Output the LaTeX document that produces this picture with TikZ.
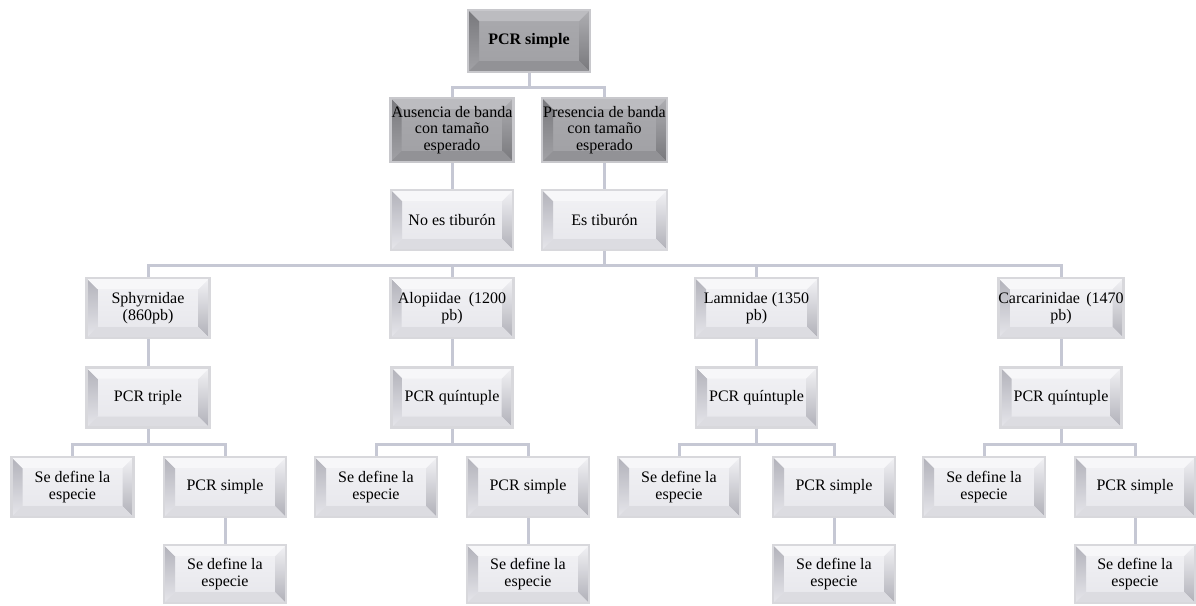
\documentclass[tikz,border=0pt]{standalone}
\usepackage{fontspec}
\setmainfont{Liberation Serif}
\usetikzlibrary{calc}
\definecolor{conncol}{HTML}{C6C8D4}
\definecolor{lborder}{HTML}{D8D8DC}
\definecolor{dborder}{HTML}{C8C8CC}
\definecolor{lfaceT}{HTML}{F2F2F5}
\definecolor{lfaceB}{HTML}{E6E6EB}
\definecolor{lleftT}{HTML}{B2B2BA}
\definecolor{lleftB}{HTML}{E6E6EB}
\definecolor{lrightT}{HTML}{F2F2F5}
\definecolor{lrightB}{HTML}{B0B0B8}
\definecolor{ltop}{HTML}{F7F7F9}
\definecolor{lbot}{HTML}{DCDCE1}
\definecolor{dfaceT}{HTML}{AAAAAE}
\definecolor{dfaceB}{HTML}{A0A0A4}
\definecolor{dleftT}{HTML}{78787C}
\definecolor{dleftB}{HTML}{A2A2A6}
\definecolor{drightT}{HTML}{AEAEB2}
\definecolor{drightB}{HTML}{78787C}
\definecolor{dtop}{HTML}{BCBCC0}
\definecolor{dbot}{HTML}{929296}
\newcommand{\bvd}{11pt}
\newcommand{\bevelwith}[8]{%
  \path (path picture bounding box.north west) coordinate (ppnw)
        (path picture bounding box.south east) coordinate (ppse);
  \shade[top color=#1,bottom color=#2] (ppnw) rectangle (ppse);
  \shade[top color=#3,bottom color=#4] (ppnw) -- ($(ppnw)+(\bvd,-\bvd)$) -- ($(ppnw |- ppse)+(\bvd,\bvd)$) -- (ppnw |- ppse) -- cycle;
  \shade[top color=#5,bottom color=#6] (ppse |- ppnw) -- ($(ppse |- ppnw)+(-\bvd,-\bvd)$) -- ($(ppse)+(-\bvd,\bvd)$) -- (ppse) -- cycle;
  \fill[#7] (ppnw) -- (ppse |- ppnw) -- ($(ppse |- ppnw)+(-\bvd,-\bvd)$) -- ($(ppnw)+(\bvd,-\bvd)$) -- cycle;
  \fill[#8] (ppnw |- ppse) -- (ppse) -- ($(ppse)+(-\bvd,\bvd)$) -- ($(ppnw |- ppse)+(\bvd,\bvd)$) -- cycle;
}
\tikzset{
  basebox/.style={rectangle, line width=2.5pt, minimum width=122pt, minimum height=60pt,
    inner sep=0pt, align=center, text=black, font=\fontsize{16}{16.5}\selectfont},
  lbox/.style={basebox, draw=lborder,
    path picture={\bevelwith{lfaceT}{lfaceB}{lleftT}{lleftB}{lrightT}{lrightB}{ltop}{lbot}}},
  dbox/.style={basebox, draw=dborder,
    path picture={\bevelwith{dfaceT}{dfaceB}{dleftT}{dleftB}{drightT}{drightB}{dtop}{dbot}}},
  conn/.style={draw=conncol, line width=3pt}
}
\begin{document}
\begin{tikzpicture}[x=1pt,y=-1pt]
\useasboundingbox[fill=white] (0,0) rectangle (1196,605);

% level 1-3
\node[dbox, minimum height=62pt] (top) at (529,41) {\textbf{PCR simple}};
\node[dbox, minimum width=123pt, minimum height=64pt] (aus) at (452,130) {Ausencia de banda\\con tamaño\\esperado};
\node[dbox, minimum width=125pt, minimum height=64pt] (pres) at (604.5,130) {Presencia de banda\\con tamaño\\esperado};
\node[lbox] (noes) at (452,220) {No es tiburón};
\node[lbox, minimum width=125pt] (es) at (604.5,220) {Es tiburón};

% families
\node[lbox, minimum width=123pt] (f1) at (148,308) {Sphyrnidae\\(860pb)};
\node[lbox, minimum width=123pt] (f2) at (452,308) {Alopiidae\hspace{0.5em}(1200\\pb)};
\node[lbox, minimum width=123pt] (f3) at (756.5,308) {Lamnidae (1350\\pb)};
\node[lbox, minimum width=123pt] (f4) at (1061,308) {Carcarinidae\hspace{0.4em}(1470\\pb)};

% PCR level
\node[lbox, minimum width=123pt] (p1) at (148,397.5) {PCR triple};
\node[lbox, minimum width=121pt] (p2) at (452,397.5) {PCR quíntuple};
\node[lbox, minimum width=121pt] (p3) at (756.5,397.5) {PCR quíntuple};
\node[lbox, minimum width=121pt] (p4) at (1061,397.5) {PCR quíntuple};

% leaves
\node[lbox] (a1) at (72.5,487) {Se define la\\especie};
\node[lbox] (b1) at (225,487) {PCR simple};
\node[lbox] (a2) at (376,487) {Se define la\\especie};
\node[lbox] (b2) at (528,487) {PCR simple};
\node[lbox] (a3) at (679,487) {Se define la\\especie};
\node[lbox] (b3) at (834,487) {PCR simple};
\node[lbox] (a4) at (984,487) {Se define la\\especie};
\node[lbox, minimum width=120pt] (b4) at (1135,487) {PCR simple};

% bottom leaves
\node[lbox, minimum height=58pt] (c1) at (225,574) {Se define la\\especie};
\node[lbox, minimum height=58pt] (c2) at (528,574) {Se define la\\especie};
\node[lbox, minimum height=58pt] (c3) at (834,574) {Se define la\\especie};
\node[lbox, minimum width=120pt, minimum height=58pt] (c4) at (1135,574) {Se define la\\especie};

% connectors
\draw[conn] (top.south) -- (top.south |- 0,87);
\draw[conn] (aus.north) |- (pres.north |- 0,87) -- (pres.north);
\draw[conn] (aus.south) -- (noes.north);
\draw[conn] (pres.south) -- (es.north);
\draw[conn] (es.south) -- (es.south |- 0,265);
\draw[conn] (f1.north) |- (f4.north |- 0,265) -- (f4.north);
\draw[conn] (f2.north) -- (f2.north |- 0,265);
\draw[conn] (f3.north) -- (f3.north |- 0,265);
\foreach \i in {1,2,3,4}{
  \draw[conn] (f\i.south) -- (p\i.north);
  \draw[conn] (p\i.south) -- (p\i.south |- 0,444);
  \draw[conn] (a\i.north) |- (b\i.north |- 0,444) -- (b\i.north);
  \draw[conn] (b\i.south) -- (c\i.north);
}
\end{tikzpicture}
\end{document}
